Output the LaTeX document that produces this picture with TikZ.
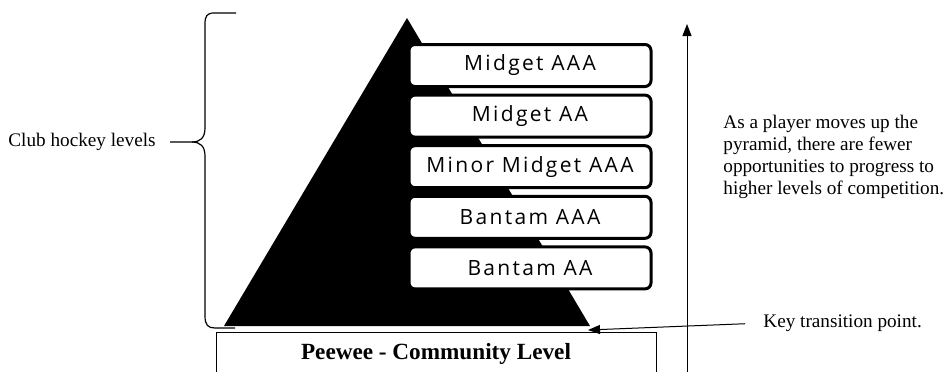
\documentclass[tikz,border=0pt]{standalone}
\usepackage{fontspec}
\setmainfont{Liberation Serif}
\newfontfamily\levelfont[LetterSpace=11]{Open Sans}
\usetikzlibrary{positioning, arrows.meta}
\tikzset{
    level/.style={rectangle, draw=black, line width=1.5pt, fill=white, rounded corners=3pt, minimum width=121pt, minimum height=21pt, align=center, font=\levelfont\fontsize{10.5}{12}\selectfont},
    note/.style={align=left, inner sep=0pt, font=\fontsize{9.6}{11}\selectfont},
    arrow/.style={-{Triangle[length=6pt, width=4.5pt]}, line width=0.5pt}
}
\begin{document}
\begin{tikzpicture}[x=0.5pt, y=-0.5pt]
        \useasboundingbox (0,0) rectangle (952,371);
        \clip (0,0) rectangle (952,371);

        % Pyramid
        \fill[black] (407,18) -- (590,326) coordinate (BaseRight) -- (224,326) -- cycle;

        % Levels
        \node[level] (MidgetAAA) at (530,65.5) {Midget AAA};
        \node[level, below=2.8pt of MidgetAAA] (MidgetAA) {Midget AA};
        \node[level, below=2.8pt of MidgetAA] (MinorMidget) {Minor Midget AAA};
        \node[level, below=2.8pt of MinorMidget] (BantamAAA) {Bantam AAA};
        \node[level, below=2.8pt of BantamAAA] (BantamAA) {Bantam AA};

        % Community level
        \draw[line width=0.5pt] (216,390) |- (656,332) -- (656,390);
        \node[font=\bfseries\fontsize{11.6}{13}\selectfont] (Peewee) at (436,354) {Peewee - Community Level};

        % Brace
        \node[note, anchor=east] (Club) at (156,142) {Club hockey levels};
        \draw[line width=0.6pt] (236,13) -- (214,13) .. controls (207,13) and (205,16) .. (205,24) -- (205,128)
            .. controls (205,138) and (200,142) .. (192,142) -- (170,142);
        \draw[line width=0.6pt] (192,142) .. controls (200,142) and (205,146) .. (205,156) -- (205,316)
            .. controls (205,325) and (208,328) .. (215,328) -- (235,328);

        % Progression
        \coordinate (AxisBottom) at (687,380);
        \coordinate (AxisTop) at (687,24);
        \draw[arrow] (AxisBottom) -- (AxisTop);
        \node[note, anchor=west] (Fewer) at (723,157) {As a player moves up the\\pyramid, there are fewer\\opportunities to progress to\\higher levels of competition.};

        % Transition
        \node[note, anchor=west] (Key) at (763,323) {Key transition point.};
        \draw[arrow, shorten <=9pt] (Key.west) -- ([xshift=-1pt, yshift=-2pt]BaseRight);

    \end{tikzpicture}
\end{document}
